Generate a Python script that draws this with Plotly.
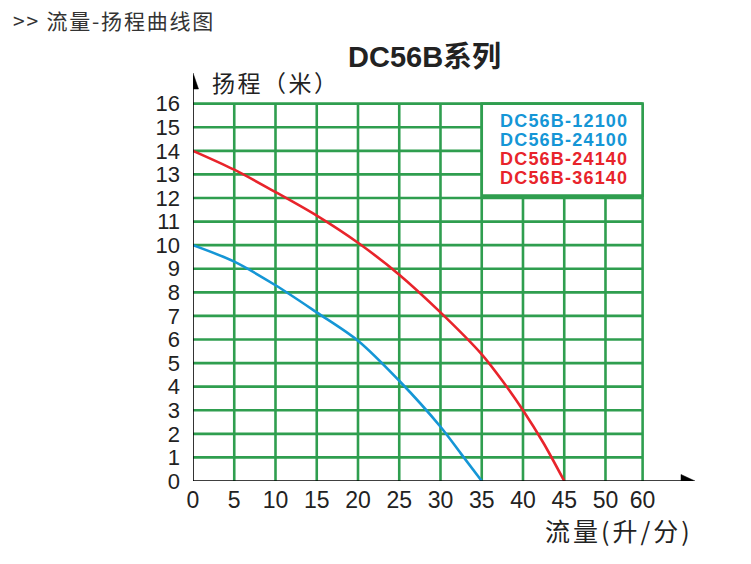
import plotly.graph_objects as go

# ---- data ----
x_tick_pos = [0, 5, 10, 15, 20, 25, 30, 35, 40, 45, 50, 54.5]
x_tick_labels = ["0", "5", "10", "15", "20", "25", "30", "35", "40", "45", "50", "60"]
y_ticks = list(range(0, 17))

blue_x = [0, 5, 10, 15, 20, 25, 30, 32.5, 35]
blue_y = [10.0, 9.3, 8.3, 7.15, 5.95, 4.25, 2.3, 1.15, 0.0]

red_x = [0, 5, 10, 15, 20, 25, 30, 35, 37.5, 40, 42.5, 45]
red_y = [14.0, 13.2, 12.25, 11.25, 10.1, 8.75, 7.15, 5.37, 4.25, 3.0, 1.6, 0.0]

legend_blue = ["DC56B-12100", "DC56B-24100"]
legend_red = ["DC56B-24140", "DC56B-36140"]

GREEN = "#2f9e4f"
BLUE = "#1596d6"
RED = "#e8242b"
CJK = "Noto Sans CJK SC"
ARIAL = "Liberation Sans"
TXT = "#222222"

W, H = 751, 564
L, R, T, B = 193, 56, 73, 83
XMAX, YMAX = 60.85, 17.3

fig = go.Figure()

shapes = []
# grid lines
for xv in x_tick_pos[1:]:
    shapes.append(dict(type="line", xref="x", yref="y", x0=xv, x1=xv, y0=0, y1=y_ticks[-1],
                       line=dict(color=GREEN, width=2.6), layer="below"))
for yv in y_ticks[1:]:
    shapes.append(dict(type="line", xref="x", yref="y", x0=0, x1=x_tick_pos[-1], y0=yv, y1=yv,
                       line=dict(color=GREEN, width=2.6), layer="below"))
# legend box (white, green border)
shapes.append(dict(type="rect", xref="x", yref="y", x0=x_tick_pos[7], x1=x_tick_pos[-1], y0=12.1, y1=y_ticks[-1],
                   fillcolor="white", line=dict(color=GREEN, width=2.6), layer="below"))
# axes
shapes.append(dict(type="line", xref="x", yref="y", x0=0, x1=0, y0=0, y1=YMAX - 0.4,
                   line=dict(color="black", width=1.6)))
shapes.append(dict(type="line", xref="x", yref="y", x0=0, x1=XMAX - 1.0, y0=0, y1=0,
                   line=dict(color="black", width=1.6)))
# arrow heads (pixel-sized)
shapes.append(dict(type="path", xref="x", yref="y", xsizemode="pixel", ysizemode="pixel",
                   xanchor=0, yanchor=YMAX, path="M 0 0 L -5.5 -16 L 5.5 -16 Z",
                   fillcolor="black", line=dict(color="black", width=0.5)))
shapes.append(dict(type="path", xref="x", yref="y", xsizemode="pixel", ysizemode="pixel",
                   xanchor=XMAX, yanchor=0, path="M 0 0 L -14 6.5 L -14 -6.5 Z",
                   fillcolor="black", line=dict(color="black", width=0.5)))

fig.add_trace(go.Scatter(x=blue_x, y=blue_y, mode="lines",
                         line=dict(color=BLUE, width=2.6, shape="spline", smoothing=0.9),
                         showlegend=False, hoverinfo="skip"))
fig.add_trace(go.Scatter(x=red_x, y=red_y, mode="lines",
                         line=dict(color=RED, width=2.6, shape="spline", smoothing=0.8),
                         showlegend=False, hoverinfo="skip"))


def px_to_paper(px, py):
    return (px - L) / (W - L - R), 1 - (py - T) / (H - T - B)


annotations = []
leg_py = [121, 140, 159, 178]
for i, t in enumerate(legend_blue + legend_red):
    lx, ly = px_to_paper(564, leg_py[i])
    annotations.append(dict(text="<span style='letter-spacing:1.2px'><b>" + t + "</b></span>",
                            xref="paper", yref="paper", x=lx, y=ly,
                            showarrow=False, font=dict(family=ARIAL, size=18,
                                                       color=BLUE if i < 2 else RED),
                            xanchor="center", yanchor="middle"))

hx, hy = px_to_paper(11, 20)
annotations.append(dict(text="<span style='letter-spacing:1.8px'>&gt;&gt; 流量-扬程曲线图</span>",
                        xref="paper", yref="paper", x=hx, y=hy,
                        xanchor="left", yanchor="middle", showarrow=False,
                        font=dict(family=CJK, size=21, color="#333333")))
tx, ty = px_to_paper(424, 54)
annotations.append(dict(text="<b><span style='font-family:Liberation Sans'>DC56B</span>系列</b>",
                        xref="paper", yref="paper", x=tx, y=ty, xanchor="center", yanchor="middle",
                        showarrow=False, font=dict(family=CJK, size=29, color=TXT)))
ax_, ay_ = px_to_paper(276, 82)
annotations.append(dict(text="<span style='letter-spacing:2.5px'>扬程（米）</span>",
                        xref="paper", yref="paper", x=ax_, y=ay_,
                        xanchor="center", yanchor="middle", showarrow=False,
                        font=dict(family=CJK, size=23, color=TXT)))
bx, by = px_to_paper(619, 530)
annotations.append(dict(text="<span style='letter-spacing:3px'>流量(升/分)</span>",
                        xref="paper", yref="paper", x=bx, y=by,
                        xanchor="center", yanchor="middle", showarrow=False,
                        font=dict(family=CJK, size=25, color=TXT)))

fig.update_layout(
    width=W, height=H,
    margin=dict(l=L, r=R, t=T, b=B),
    paper_bgcolor="white", plot_bgcolor="white",
    shapes=shapes, annotations=annotations,
    xaxis=dict(range=[0, XMAX], tickvals=x_tick_pos, ticktext=x_tick_labels, showgrid=False, zeroline=False,
               showline=False, ticks="", ticklabelstandoff=3,
               tickfont=dict(family=ARIAL, size=23, color=TXT), fixedrange=True),
    yaxis=dict(range=[0, YMAX], tickvals=y_ticks, ticktext=[str(v) for v in y_ticks], showgrid=False,
               zeroline=False, showline=False, ticks="", ticklabelstandoff=12,
               tickfont=dict(family=ARIAL, size=22, color=TXT), fixedrange=True),
)

fig.write_html("out.html")
